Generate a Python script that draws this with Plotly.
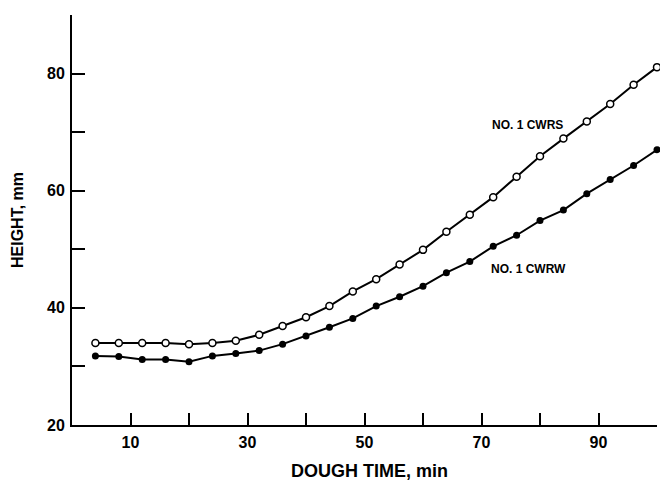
import plotly.graph_objects as go

# Data
dough_time = [4, 8, 12, 16, 20, 24, 28, 32, 36, 40, 44, 48, 52, 56, 60, 64, 68, 72, 76, 80, 84, 88, 92, 96, 100]
cwrs = [34.0, 34.0, 34.0, 34.0, 33.8, 34.0, 34.4, 35.4, 36.9, 38.4, 40.3, 42.8, 44.9, 47.4, 49.9,
        53.0, 55.9, 58.9, 62.4, 65.9, 68.9, 71.8, 74.8, 78.1, 81.1]
cwrw = [31.8, 31.7, 31.2, 31.2, 30.8, 31.8, 32.2, 32.7, 33.8, 35.2, 36.7, 38.2, 40.3, 41.9, 43.7,
        46.0, 47.9, 50.5, 52.4, 54.9, 56.7, 59.5, 61.9, 64.3, 67.0]

x_tickvals = [10, 20, 30, 40, 50, 60, 70, 80, 90, 100]
x_ticktext = ["10", "", "30", "", "50", "", "70", "", "90", ""]
y_tickvals = [20, 30, 40, 50, 60, 70, 80, 90]
y_ticktext = ["20", "", "40", "", "60", "", "80", ""]

series_labels = ["NO. 1 CWRS", "NO. 1 CWRW"]
label_pos = [(77.9, 71.2), (78.0, 46.6)]

FONT = "Liberation Sans"

fig = go.Figure()
fig.add_trace(go.Scatter(
    x=dough_time, y=cwrs, mode="lines+markers", name=series_labels[0],
    line=dict(color="black", width=2),
    marker=dict(symbol="circle", size=7, color="white", line=dict(color="black", width=1.5)),
    cliponaxis=False,
))
fig.add_trace(go.Scatter(
    x=dough_time, y=cwrw, mode="lines+markers", name=series_labels[1],
    line=dict(color="black", width=2),
    marker=dict(symbol="circle", size=7, color="black"),
    cliponaxis=False,
))

for txt, (lx, ly) in zip(series_labels, label_pos):
    fig.add_annotation(x=lx, y=ly, text="<b>" + txt + "</b>", showarrow=False,
                       font=dict(family=FONT, size=12, color="black"),
                       xanchor="center", yanchor="middle")

fig.add_annotation(xref="paper", yref="paper", x=(369 - 72) / 585, y=-(471 - 425) / 410,
                   text="<b>DOUGH TIME, min</b>", showarrow=False,
                   font=dict(family=FONT, size=18, color="black"),
                   xanchor="center", yanchor="middle")
fig.add_annotation(xref="paper", yref="paper", x=-(72 - 17) / 585, y=0.5,
                   text="<b>HEIGHT, mm</b>", showarrow=False, textangle=-90,
                   font=dict(family=FONT, size=16, color="black"),
                   xanchor="center", yanchor="middle")

fig.update_layout(
    width=660, height=481,
    margin=dict(l=72, r=3, t=15, b=56),
    paper_bgcolor="white", plot_bgcolor="white",
    showlegend=False,
    font=dict(family=FONT, color="black"),
)
fig.update_xaxes(
    range=[0, 100], showgrid=False, zeroline=False,
    showline=True, linecolor="black", linewidth=2,
    ticks="inside", ticklen=12, tickwidth=2, tickcolor="black",
    tickvals=x_tickvals, ticktext=x_ticktext,
    tickfont=dict(family=FONT, size=16, color="black", weight="bold"),
    ticklabelstandoff=2,
)
fig.update_yaxes(
    range=[20, 90], showgrid=False, zeroline=False,
    showline=True, linecolor="black", linewidth=2,
    ticks="inside", ticklen=13, tickwidth=2, tickcolor="black",
    tickvals=y_tickvals, ticktext=y_ticktext,
    tickfont=dict(family=FONT, size=16, color="black", weight="bold"),
    ticklabelstandoff=2,
)

fig.write_html("out.html", config={"displayModeBar": False},
               post_script="document.body.style.margin='0';document.body.style.padding='0';")
